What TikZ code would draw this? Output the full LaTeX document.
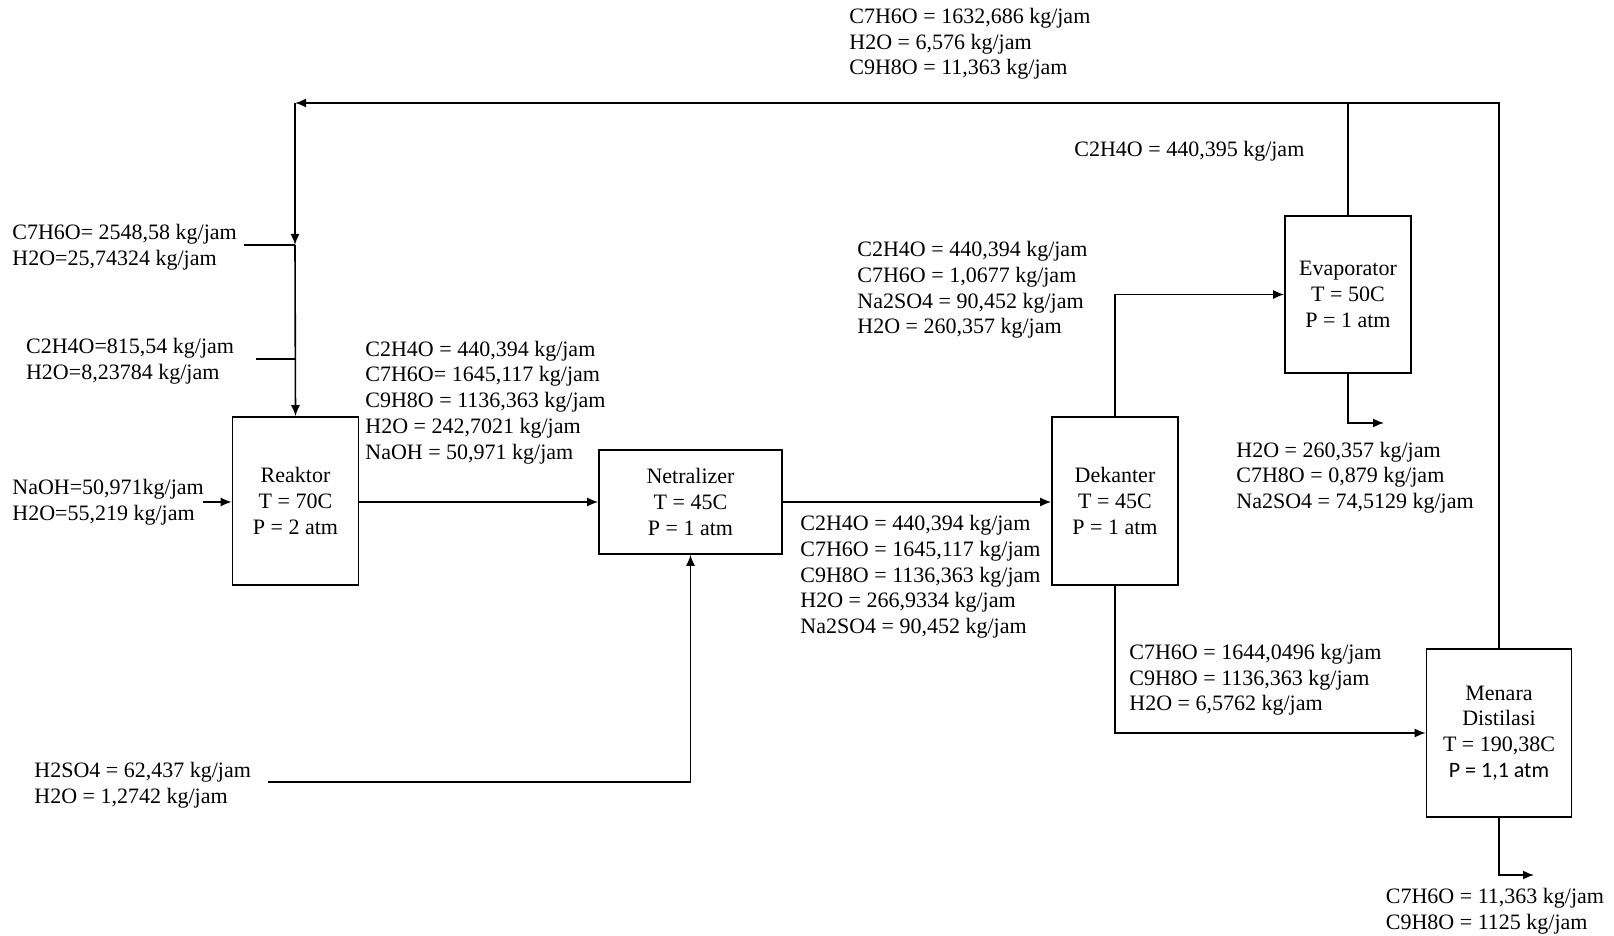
\documentclass[tikz,border=0pt]{standalone}
\usepackage{fontspec}
\setmainfont{Liberation Serif}
\newfontfamily\calib{Carlito}
\usetikzlibrary{arrows.meta}
\begin{document}
\begin{tikzpicture}[x=0.5pt,y=-0.5pt,
  every node/.style={font=\fontsize{11}{12.85}\selectfont},
  unit/.style={draw,line width=0.8pt,align=center,inner sep=0pt},
  lbl/.style={align=left,anchor=west,inner sep=0pt},
  ln/.style={line width=0.8pt},
  arr/.style={line width=0.8pt,-{Latex[length=5.5pt,width=4.5pt]}}]
\useasboundingbox (0,0) rectangle (1614,936);
% units
\node[unit,minimum width=63pt,minimum height=84pt] (reak) at (295.5,501) {Reaktor\\T = 70C\\P = 2 atm};
\node[unit,minimum width=91.5pt,minimum height=52pt] (net) at (690.5,502) {Netralizer\\T = 45C\\P = 1 atm};
\node[unit,minimum width=63pt,minimum height=84pt] (dek) at (1115,501) {Dekanter\\T = 45C\\P = 1 atm};
\node[unit,minimum width=63pt,minimum height=78.5pt] (evap) at (1348,294.5) {Evaporator\\T = 50C\\P = 1 atm};
\node[unit,minimum width=72.5pt,minimum height=84pt] (men) at (1499,733) {Menara\\Distilasi\\T = 190,38C\\{\calib P = 1,1 atm}};
% labels
\node[lbl] (ltop) at (849,44) {C7H6O = 1632,686 kg/jam\\H2O = 6,576 kg/jam\\C9H8O = 11,363 kg/jam};
\node[lbl] (lvap) at (1074,151) {C2H4O = 440,395 kg/jam};
\node[lbl] (ldekev) at (857,290) {C2H4O = 440,394 kg/jam\\C7H6O = 1,0677 kg/jam\\Na2SO4 = 90,452 kg/jam\\H2O = 260,357 kg/jam};
\node[lbl] (levout) at (1236,477.5) {H2O = 260,357 kg/jam\\C7H8O = 0,879 kg/jam\\Na2SO4 = 74,5129 kg/jam};
\node[lbl] (lf1) at (12,247.5) {C7H6O= 2548,58 kg/jam\\H2O=25,74324 kg/jam};
\node[lbl] (lf2) at (25.7,361) {C2H4O=815,54 kg/jam\\H2O=8,23784 kg/jam};
\node[lbl] (lf3) at (12,502) {NaOH=50,971kg/jam\\H2O=55,219 kg/jam};
\node[lbl] (lrn) at (365,402.4) {C2H4O = 440,394 kg/jam\\C7H6O= 1645,117 kg/jam\\C9H8O = 1136,363 kg/jam\\H2O = 242,7021 kg/jam\\NaOH = 50,971 kg/jam};
\node[lbl] (lnd) at (800,577) {C2H4O = 440,394 kg/jam\\C7H6O = 1645,117 kg/jam\\C9H8O = 1136,363 kg/jam\\H2O = 266,9334 kg/jam\\Na2SO4 = 90,452 kg/jam};
\node[lbl] (lacid) at (34,785) {H2SO4 = 62,437 kg/jam\\H2O = 1,2742 kg/jam};
\node[lbl] (ldm) at (1129,680) {C7H6O = 1644,0496 kg/jam\\C9H8O = 1136,363 kg/jam\\H2O = 6,5762 kg/jam};
\node[lbl] (lbot) at (1385.5,911) {C7H6O = 11,363 kg/jam\\C9H8O = 1125 kg/jam};
% coordinates
\coordinate (topL) at (295,103);
\coordinate (topM) at (1348,103);
\coordinate (topR) at (1499,103);
\coordinate (j1) at (295,245);
\coordinate (j2) at (295,359);
\coordinate (f1) at (244,245);
\coordinate (f2) at (256,359);
\coordinate (f3) at (203,502);
\coordinate (acid) at (267.6,782);
\coordinate (evd) at (1384,423);
\coordinate (mnd) at (1534,875);
% connectors
\draw[ln] (men.north) -- (topR) -- (topM);
\draw[arr] (evap.north) -- (topM) -- (topL);
\draw[arr] (topL) -- (j1);
\draw[arr] (j1) -- (reak.north);
\draw[ln] (f1) -- (j1);
\draw[ln] (f2) -- (j2);
\draw[arr] (f3) -- (reak.west |- f3);
\draw[arr] (reak.east |- net.west) -- (net.west);
\draw[arr] (net.east) -- (net.east -| dek.west);
\draw[arr] (acid) -| (net.south);
\draw[arr] (dek.north) |- (evap.west);
\draw[arr] (evap.south) |- (evd);
\draw[arr] (dek.south) |- (men.west);
\draw[arr] (men.south) |- (mnd);
\end{tikzpicture}
\end{document}
